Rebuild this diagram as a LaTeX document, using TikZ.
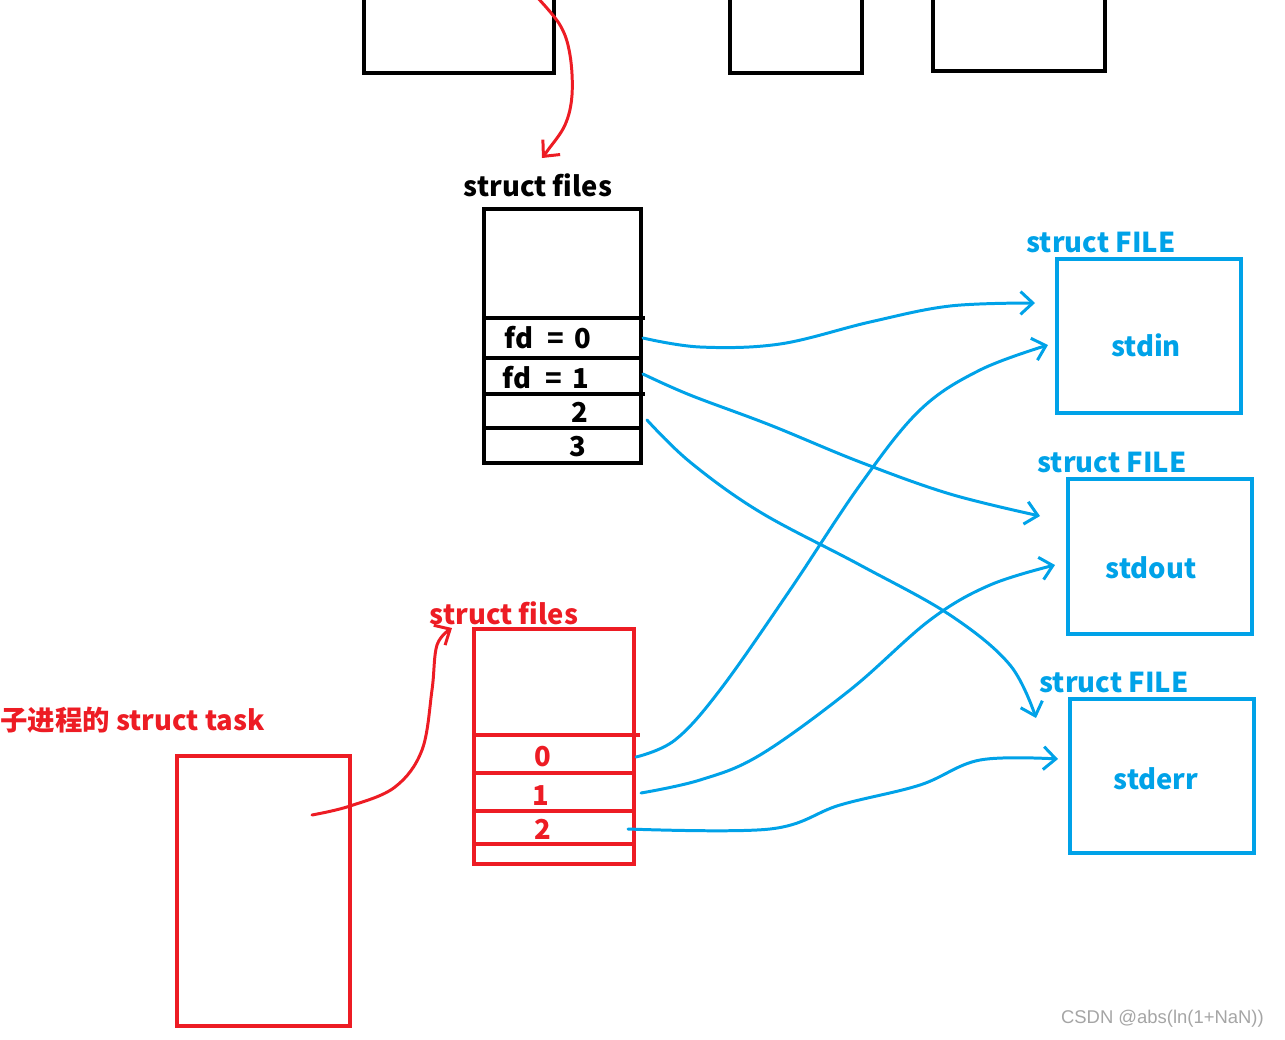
\documentclass[tikz,border=0pt]{standalone}
\usepackage{fontspec}
\setmainfont{Noto Sans CJK SC}
\newfontfamily\markfont{Liberation Sans}
\usetikzlibrary{arrows.meta}
\definecolor{penred}{RGB}{237,28,36}
\definecolor{penblue}{RGB}{0,162,232}
\definecolor{markgray}{RGB}{165,165,165}

\begin{document}
\begin{tikzpicture}[x=0.02cm, y=-0.02cm, >={Straight Barb[length=7pt,width=13pt]},
    blk/.style={draw=black, line width=2.3pt},
    redbox/.style={draw=penred, line width=2.3pt},
    bluebox/.style={draw=penblue, line width=2.3pt},
    wire/.style={penblue, line width=1.7pt, line cap=round, line join=round},
    redwire/.style={penred, line width=1.7pt, line cap=round, line join=round},
    lbl/.style={font=\bfseries\fontsize{15.6}{18}\selectfont, inner sep=0pt}]
    \useasboundingbox (0,0) rectangle (1285,1039);
    \clip (0,0) rectangle (1285,1039);

    % parent task boxes at the top
    \draw[blk] (364,-20) rectangle (554,73);
    \draw[blk] (730,-20) rectangle (862,73);
    \draw[blk] (933,-20) rectangle (1105,71);

    % parent files table
    \node[lbl] (pfiles) at (538,185) {struct files};
    \draw[blk] (484,209) rectangle (641,463);
    \draw[blk] (484,318) -- (645,318);
    \draw[blk] (484,358) -- (641,358);
    \draw[blk] (484,394) -- (645,394);
    \draw[blk] (484,428) -- (641,428);
    \node[lbl] (fd0) at (548,338) {fd \;=\, 0};
    \node[lbl] (fd1) at (546,378) {fd \;=\, 1};
    \node[lbl] (fd2) at (580,412) {2};
    \node[lbl] (fd3) at (578,447) {3};

    % FILE objects
    \node[lbl, text=penblue] (fileA) at (1101,242) {struct FILE};
    \draw[bluebox] (1057,259) rectangle (1241,413);
    \node[lbl, text=penblue] (stdin) at (1146,345) {stdin};
    \node[lbl, text=penblue] (fileB) at (1112,462) {struct FILE};
    \draw[bluebox] (1068,479) rectangle (1252,634);
    \node[lbl, text=penblue] (stdout) at (1151,568) {stdout};
    \node[lbl, text=penblue] (fileC) at (1114,682) {struct FILE};
    \draw[bluebox] (1070,699) rectangle (1254,853);
    \node[lbl, text=penblue] (stderr) at (1156,779) {stderr};

    % child task and its files table
    \node[lbl, text=penred, anchor=west] (ctask) at (0,720) {子进程的 struct task};
    \draw[redbox] (177,756) rectangle (350,1026);
    \node[lbl, text=penred] (cfiles) at (504,613) {struct files};
    \draw[redbox] (474,629) rectangle (634,864);
    \draw[redbox] (474,735) -- (640,735);
    \draw[redbox] (474,773) -- (634,773);
    \draw[redbox] (472,811) -- (634,811);
    \draw[redbox] (474,844) -- (636,844);
    \node[lbl, text=penred] (c0) at (543,757) {0};
    \node[lbl, text=penred] (c1) at (541,796) {1};
    \node[lbl, text=penred] (c2) at (543,829) {2};

    % ends of the hand drawn links
    \coordinate (p0) at (643,338);
    \coordinate (p1) at (643,374);
    \coordinate (p2) at (647,420);
    \coordinate (q0) at (636,757);
    \coordinate (q1) at (641,793);
    \coordinate (q2) at (628,829);
    \coordinate (inA) at (1035,303);
    \coordinate (inB) at (1048,345);
    \coordinate (outA) at (1040,516);
    \coordinate (outB) at (1055,565);
    \coordinate (errA) at (1036,718);
    \coordinate (errB) at (1058,759);
    \coordinate (ptask) at (535,-5);
    \coordinate (ctaskin) at (312,815);

    \draw[wire,->] plot[smooth, tension=0.6] coordinates {
      (p0) (700,347) (780,344) (870,322) (950,306) (inA)};
    \draw[wire,->] plot[smooth, tension=0.6] coordinates {
      (p1) (690,395) (770,425) (860,462) (950,494) (outA)};
    \draw[wire,->] plot[smooth, tension=0.6] coordinates {
      (p2) (690,462) (760,512) (860,565) (950,615) (1010,665) (errA)};
    \draw[wire,->] plot[smooth, tension=0.6] coordinates {
      (q0) (675,740) (720,690) (790,590) (860,485) (920,410) (980,370) (inB)};
    \draw[wire,->] plot[smooth, tension=0.6] coordinates {
      (q1) (700,780) (760,755) (850,690) (930,620) (990,585) (outB)};
    \draw[wire,->] plot[smooth, tension=0.6] coordinates {
      (q2) (770,829) (840,805) (920,785) (980,760) (errB)};

    \draw[redwire,->] plot[smooth, tension=0.6] coordinates {
      (ptask) (560,25) (570,55) (572,95) (565,125) (548,150) (542,158)};
    \draw[redwire,->] plot[smooth, tension=0.6] coordinates {
      (ctaskin) (350,806) (395,787) (422,750) (432,690) (437,645) (452,628)};

    \node[text=markgray, font=\markfont\fontsize{10.5}{12}\selectfont, anchor=east] (mark) at (1270,1019) {CSDN @abs(ln(1+NaN))};
  \end{tikzpicture}
\end{document}
